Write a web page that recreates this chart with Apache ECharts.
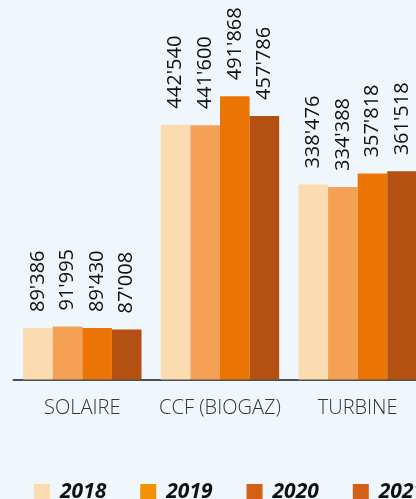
<!DOCTYPE html>
<html>
<head>
<meta charset="utf-8">
<script src="https://cdn.jsdelivr.net/npm/echarts@6/dist/echarts.min.js"></script>
<style>
html,body{margin:0;padding:0;background:#eff7fd;overflow:hidden;}
#c{width:440px;height:499px;}
</style>
</head>
<body>
<div id="c"></div>
<script>
const categories = ['SOLAIRE', 'CCF (BIOGAZ)', 'TURBINE'];
const years = ['2018', '2019', '2020', '2021'];
const s2018 = [89386, 442540, 338476];
const s2019 = [91995, 441600, 334388];
const s2020 = [89430, 491868, 357818];
const s2021 = [87008, 457786, 361518];
const barColors = ['#fbdbb0', '#f4a155', '#ec7405', '#b45112'];
const legendColors = ['#fcdbb0', '#f39200', '#d45f17', '#d45f17'];

const seriesData = [s2018, s2019, s2020, s2021];
function fmt(v){ return String(v).replace(/\B(?=(\d{3})+(?!\d))/g, "'"); }

const chart = echarts.init(document.getElementById('c'), null, {renderer:'canvas'});
chart.setOption({
  backgroundColor: '#eff7fd',
  animation: false,
  grid: { left: 13.5, width: 413, top: 34, height: 345.5, containLabel: false },
  legend: {
    left: 34, top: 481.5, width: 800, padding: 0,
    itemWidth: 16, itemHeight: 16, itemGap: 34,
    icon: 'rect',
    textStyle: { fontFamily: 'Open Sans', fontSize: 21, fontWeight: 'bold', fontStyle: 'italic', color: '#111', padding: [0, 0, 0, 5] },
    data: years.map((y,i)=>({ name: y, itemStyle: { color: legendColors[i] } }))
  },
  xAxis: {
    type: 'category', data: categories,
    axisLine: { lineStyle: { color: '#4b5055', width: 2 } },
    axisTick: { show: false },
    axisLabel: { interval: 0, fontFamily: 'Open Sans', fontSize: 20, fontWeight: 300, color: '#333', margin: 19 }
  },
  yAxis: { type: 'value', min: 0, max: 600000, show: false, splitLine: { show: false } },
  series: years.map((y,i)=>({
    name: y, type: 'bar', data: seriesData[i],
    barGap: 0, barCategoryGap: '14%',
    itemStyle: { color: barColors[i] },
    label: {
      show: true, position: 'top', rotate: 90, align: 'left', verticalAlign: 'middle',
      distance: 16, fontFamily: 'Open Sans', fontSize: 20, color: '#111',
      formatter: p => fmt(p.value)
    }
  }))
});
</script>
</body>
</html>
